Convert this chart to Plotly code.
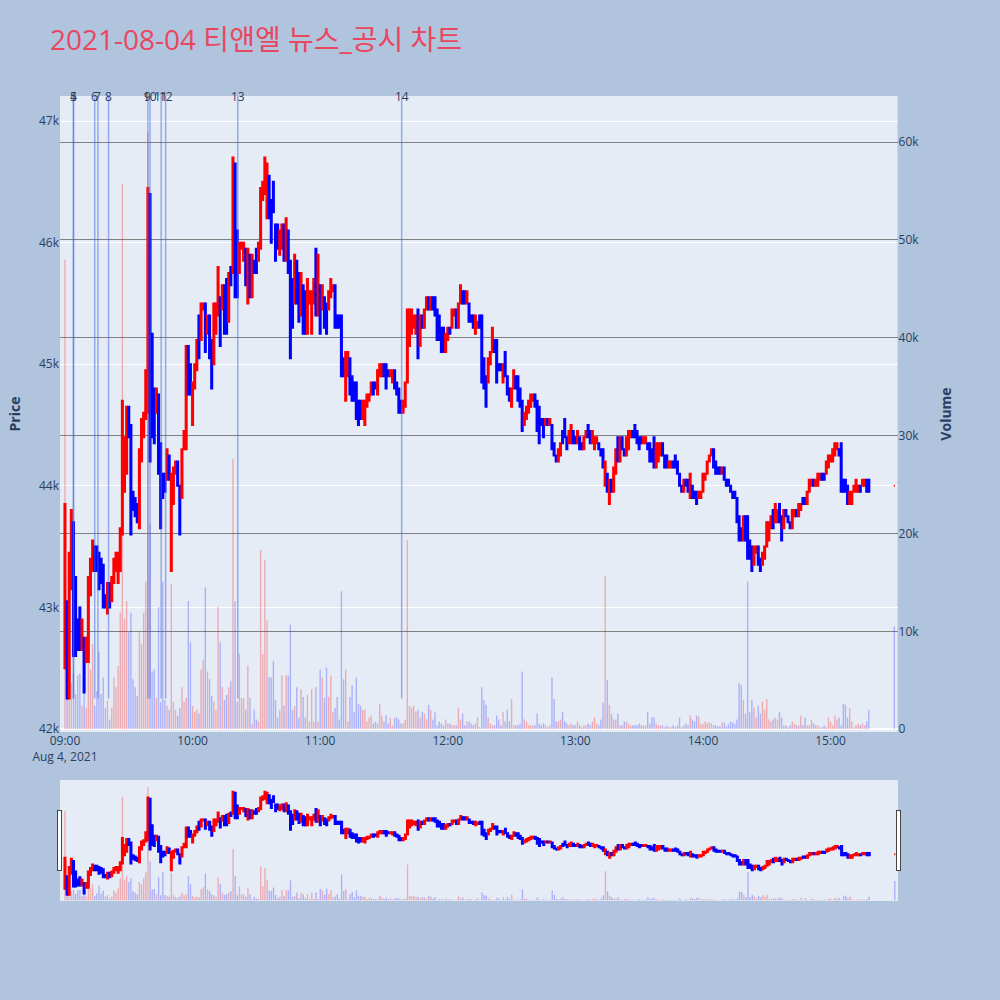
import pandas as pd
import plotly.graph_objects as go
from plotly.subplots import make_subplots

# 1-minute candles from 09:00
open_px = [
    42500, 43050, 42250, 43150, 43700, 43250, 42900, 43000, 42650, 42750,
    42550, 42550, 43100, 43300, 43500, 43500, 43450, 43400, 43350, 43100,
    42950, 43200, 43050, 43200, 43300, 43200, 43300, 43600, 43950, 44100,
    44650, 44500, 43950, 43900, 43850, 43650, 44200, 44400, 44550, 44600,
    46400, 45250, 44800, 44600, 44750, 44350, 44100, 44100, 44050, 44250,
    43300, 43850, 44100, 44200, 44000, 43900, 44300, 44300, 45150, 45000,
    44500, 44800, 44950, 45400, 45200, 45450, 45500, 45250, 45400, 45200,
    45000, 45250, 45400, 45550, 45450, 45650, 45700, 45350, 45800, 45750,
    46650, 46100, 45750, 45950, 45850, 45950, 45500, 45900, 45550, 45850,
    45950, 45850, 45950, 46350, 46400, 46200, 46550, 46350,
    46500, 46150, 46150, 45900, 45950, 46150, 45850, 46100, 45850, 45700,
    45500, 45850, 45750, 45400, 45650, 45600, 45250, 45500, 45250, 45500,
    45950, 45400, 45650, 45450, 45550, 45500, 45450, 45550, 45600, 45650,
    45400, 45400, 45400, 45050, 44700, 44900, 45050, 44900, 44850, 44850,
    44700, 44700, 44550, 44500, 44650, 44700, 44750, 44850, 44850, 44750,
    44900, 44900, 45000, 45000, 44950, 44900, 44850, 44950, 44850, 44800,
    44700, 44600, 44650, 44850, 45150, 45250, 45300, 45250, 45450, 45150,
    45400, 45300, 45450, 45550, 45450, 45550, 45550, 45450, 45400, 45300,
    45300, 45100, 45200, 45300, 45300, 45400, 45450, 45300, 45500, 45600,
    45600, 45500, 45500, 45400, 45400, 45250, 45300, 45400, 45400,
    45050, 44900, 44850, 45000, 45100, 45200, 45200, 45000, 45000, 44850,
    45100, 44900, 44800, 44650, 44800, 44900, 44900, 44800, 44700, 44500,
    44550, 44600, 44650, 44700, 44750, 44700, 44650, 44550, 44550, 44500,
    44550, 44500, 44500, 44350, 44250, 44200, 44250, 44450, 44550, 44400,
    44350, 44350, 44450, 44400, 44350, 44400, 44350, 44300, 44400, 44500,
    44450, 44350, 44300, 44350, 44350, 44300, 44300, 44000, 44100, 43850,
    44050, 43950, 44100, 44400, 44200, 44400, 44300, 44250, 44300, 44400,
    44450, 44500, 44450, 44400, 44400, 44350, 44350, 44350, 44350, 44300,
    44400, 44150, 44200, 44250, 44350, 44250, 44250, 44150, 44150, 44200,
    44250, 44200, 44100, 44000, 43950, 44050, 44050, 43900,
    44000, 43950, 43950, 43900, 43900, 43950, 44050, 44100, 44200, 44250,
    44300, 44200, 44150, 44150, 44100, 44150, 44050, 44050, 44000, 43950,
    43950, 43900, 43750, 43650, 43550, 43750, 43750, 43550, 43500, 43350,
    43450, 43500, 43400, 43350, 43400, 43500, 43550, 43650, 43800, 43700,
    43700, 43850, 43750, 43650, 43800, 43750, 43700, 43650, 43750, 43800,
    43750, 43800, 43900, 43900, 43850, 43950, 44000, 44050, 44000, 44000,
    44050, 44100, 44100, 44100, 44150, 44200, 44200, 44250, 44300, 44300,
    44350, 44050, 44050, 44000, 43850, 43850, 43950, 43950, 43950, 44000,
    44000, 44000, 44050, 44050,
]

close_px = [
    43850, 42250, 43450, 43800, 42600, 42600, 42650, 42650, 42900, 42300,
    42750, 43250, 43400, 43550, 43300, 43300, 43150, 43200, 43000, 43000,
    43200, 43000, 43250, 43400, 43450, 43450, 43650, 44700, 44400, 44650,
    44400, 43600, 43800, 43750, 43700, 44300, 44550, 44600, 44950, 46450,
    44200, 44400, 44350, 44800, 44100, 43650, 43900, 43950, 44300, 44050,
    44100, 44150, 44200, 44000, 43600, 44300, 44450, 45150, 44750, 44750,
    44850, 45000, 45200, 45050, 45500, 45500, 45100, 45400, 45050, 44800,
    45500, 45500, 45800, 45150, 45650, 45250, 45250, 45750, 45650, 46700,
    45550, 45550, 46000, 46000, 46000, 45650, 45950, 45550, 45900, 45750,
    45750, 46000, 46450, 46500, 46700, 46650, 46200, 46000,
    46250, 45850, 45950, 46100, 46150, 45850, 46200, 45750, 45050, 45300,
    45900, 45500, 45350, 45750, 45250, 45250, 45700, 45600, 45600, 45700,
    45400, 45900, 45250, 45650, 45300, 45250, 45600, 45700, 45650, 45300,
    45300, 45300, 44900, 44900, 45100, 45100, 44750, 44700, 44700, 44550,
    44500, 44550, 44700, 44700, 44750, 44750, 44850, 44750, 44800, 44950,
    45000, 45000, 44900, 44800, 44900, 44950, 44950, 44800, 44750, 44600,
    44600, 44700, 44850, 45450, 45450, 45450, 45400, 45400, 45050, 45400,
    45300, 45450, 45550, 45450, 45550, 45450, 45400, 45200, 45200, 45100,
    45100, 45250, 45300, 45250, 45450, 45450, 45300, 45500, 45650, 45500,
    45500, 45600, 45350, 45350, 45300, 45400, 45350, 45300, 44850,
    44800, 44650, 45050, 45100, 45300, 45100, 44850, 44950, 44950, 45000,
    44900, 44750, 44700, 44800, 44950, 44800, 44700, 44650, 44450, 44600,
    44650, 44700, 44750, 44750, 44650, 44450, 44350, 44500, 44400, 44550,
    44500, 44550, 44300, 44250, 44200, 44300, 44350, 44350, 44400, 44300,
    44450, 44500, 44350, 44350, 44450, 44300, 44300, 44400, 44450, 44400,
    44350, 44450, 44400, 44400, 44300, 44250, 44150, 44200, 43950, 44050,
    43950, 44150, 44300, 44200, 44400, 44300, 44250, 44400, 44450, 44450,
    44400, 44400, 44350, 44300, 44350, 44400, 44400, 44300, 44200, 44200,
    44150, 44350, 44350, 44350, 44250, 44150, 44150, 44200, 44200, 44150,
    44150, 44100, 44000, 43950, 44050, 44000, 43950, 44100,
    43900, 43900, 43850, 43950, 43950, 44100, 44100, 44200, 44250, 44300,
    44150, 44100, 44100, 44100, 44150, 44050, 44000, 44000, 43950, 43900,
    43900, 43700, 43550, 43550, 43750, 43550, 43400, 43400, 43300, 43500,
    43500, 43350, 43300, 43450, 43500, 43700, 43700, 43750, 43650, 43850,
    43800, 43700, 43550, 43800, 43750, 43700, 43650, 43800, 43800, 43750,
    43850, 43850, 43850, 43850, 43950, 44050, 44050, 44000, 44050, 44100,
    44100, 44050, 44050, 44200, 44250, 44250, 44300, 44350, 44350, 44250,
    43950, 43950, 43950, 43850, 43950, 43950, 44000, 44050, 44000, 43950,
    44050, 44050, 43950, 43950,
]

volume = [
    48000, 3200, 3400, 4700, 5700, 3600, 5500, 5700, 2400, 5500,
    2200, 8700, 6100, 8700, 2400, 3900, 7900, 3600, 5300, 2200,
    2900, 1000, 2200, 5300, 4300, 6500, 11900, 55700, 11300, 13100,
    9900, 11900, 5100, 4300, 3400, 9900, 8700, 11900, 15100, 61000,
    21000, 5900, 6100, 3200, 12500, 2800, 15100, 3000, 2400, 2000,
    14900, 2800, 2000, 1400, 2200, 4300, 2800, 3200, 13100, 8900,
    2400, 1800, 2000, 1600, 6100, 7100, 14500, 5900, 5100, 3400,
    2800, 2000, 12500, 8900, 4300, 3000, 3500, 4300, 4900, 27600,
    13100, 2800, 7700, 3200, 3200, 2000, 6500, 3200, 600, 2000,
    1000, 800, 18300, 7700, 17300, 11100, 5300, 5300,
    7000, 3000, 1200, 2000, 5500, 2400, 5500, 5500, 10700, 2000,
    2400, 4300, 1200, 4100, 3300, 1200, 3500, 800, 4100, 800,
    4300, 800, 6100, 5300, 3200, 6300, 3300, 5500, 1800, 2200,
    3300, 1000, 14100, 5100, 6100, 800, 3300, 4500, 1800, 5300,
    2600, 2400, 2000, 2000, 800, 1200, 1400, 600, 800, 600,
    2600, 1400, 800, 1400, 600, 1200, 400, 1200, 1200, 1000,
    600, 600, 1000, 19300, 2400, 2200, 2400, 1800, 2000, 1200,
    1800, 1600, 1000, 2500, 2000, 1000, 1800, 400, 800, 600,
    400, 1000, 600, 600, 400, 400, 400, 2200, 1000, 1600,
    400, 800, 800, 600, 400, 600, 1200, 200, 4300,
    3000, 2500, 1200, 600, 400, 400, 1400, 1000, 400, 1800,
    800, 2000, 800, 3100, 400, 400, 400, 600, 5900, 1000,
    800, 400, 400, 400, 400, 1600, 600, 400, 600, 400,
    200, 400, 5300, 3100, 800, 800, 1000, 1800, 800, 600,
    400, 600, 400, 400, 800, 400, 200, 400, 400, 600,
    400, 800, 1200, 600, 400, 1000, 2700, 15700, 5000, 2500,
    1600, 1000, 1000, 1600, 400, 400, 800, 800, 600, 400,
    400, 400, 400, 600, 400, 400, 400, 1800, 600, 1200,
    1200, 600, 400, 400, 400, 200, 400, 200, 200, 400,
    200, 400, 1200, 200, 400, 600, 400, 1400,
    1000, 800, 1400, 1300, 500, 600, 800, 600, 700, 600,
    400, 400, 300, 300, 700, 700, 300, 500, 800, 700,
    500, 1000, 4700, 4500, 3000, 1600, 15100, 1800, 3000, 2200,
    1200, 2400, 1600, 2800, 2000, 3100, 1000, 800, 1000, 1200,
    1000, 1800, 1200, 400, 400, 200, 400, 800, 600, 400,
    400, 1400, 400, 1200, 400, 400, 1000, 600, 400, 400,
    200, 200, 400, 200, 1200, 800, 400, 1400, 1000, 1200,
    400, 2600, 2500, 1200, 2200, 800, 200, 400, 600, 400,
    600, 400, 800, 2000,
]

# closing single-price auction
close_time = "2021-08-04 15:30"
close_open = 44000
close_close = 44000
close_volume = 10500

# news / disclosure times
news_times = ["09:04:00", "09:04:00", "09:14:00", "09:15:30", "09:20:30",
              "09:39:00", "09:40:00", "09:45:15", "09:47:20", "10:21:15",
              "11:38:20"]
news_labels = ["4", "5", "6", "7", "8", "9", "10", "11", "12", "13", "14"]

n = min(len(open_px), len(close_px), len(volume))
times = list(pd.date_range("2021-08-04 09:00", periods=n, freq="min")) + [pd.Timestamp(close_time)]
df = pd.DataFrame({
    "time": times,
    "open": open_px[:n] + [close_open],
    "close": close_px[:n] + [close_close],
    "volume": volume[:n] + [close_volume],
})
df["high"] = df[["open", "close"]].max(axis=1)
df["low"] = df[["open", "close"]].min(axis=1)

vol_colors = ["rgba(255,0,0,0.28)" if c > o else "rgba(0,0,255,0.25)"
              for o, c in zip(df["open"], df["close"])]

fig = make_subplots(specs=[[{"secondary_y": True}]])

fig.add_trace(
    go.Candlestick(
        x=df["time"], open=df["open"], high=df["high"], low=df["low"], close=df["close"],
        increasing=dict(line=dict(color="red"), fillcolor="red"),
        decreasing=dict(line=dict(color="blue"), fillcolor="blue"),
        name="Price",
    ),
    secondary_y=False,
)

fig.add_trace(
    go.Bar(x=df["time"], y=df["volume"], marker=dict(color=vol_colors, line=dict(width=0)),
           name="Volume"),
    secondary_y=True,
)

price_top = 47206
price_low = df["low"].min()

# ------------------------------ news markers ------------------------------ #
for t, lab in zip(news_times, news_labels):
    ts = "2021-08-04 " + t
    fig.add_shape(type="line", xref="x", yref="y", x0=ts, x1=ts,
                  y0=price_low, y1=price_top,
                  line=dict(color="royalblue", width=1.5), opacity=0.5)
    fig.add_annotation(x=ts, y=1, xref="x", yref="paper", text=lab,
                       showarrow=False, yanchor="middle",
                       font=dict(size=12, color="#2a3f5f"))

fig.update_layout(
    width=1000, height=1000,
    title=dict(text="2021-08-04 티앤엘 뉴스_공시 차트", x=0.05, y=0.96,
               xanchor="left", yanchor="middle",
               font=dict(size=28, color="#E8475F",
                         family="Open Sans, Noto Sans CJK KR")),
    paper_bgcolor="lightsteelblue",
    plot_bgcolor="#E5ECF6",
    margin=dict(l=60, r=49, t=96, b=100),
    showlegend=False,
    bargap=0.35,
)

fig.update_xaxes(
    range=["2021-08-04 08:57:40", "2021-08-04 15:31:30"],
    rangeslider=dict(visible=True, thickness=0.15, bgcolor="#E5ECF6"),
)
fig.update_yaxes(title_text="<b>Price</b>", range=[41975, price_top],
                 secondary_y=False)
fig.update_yaxes(title=dict(text="<b>Volume</b>", standoff=22), range=[-280, 64700],
                 showgrid=True, gridcolor="gray", secondary_y=True)

fig.write_html("out.html", config={"displayModeBar": False},
               post_script="document.body.style.margin='0';")
